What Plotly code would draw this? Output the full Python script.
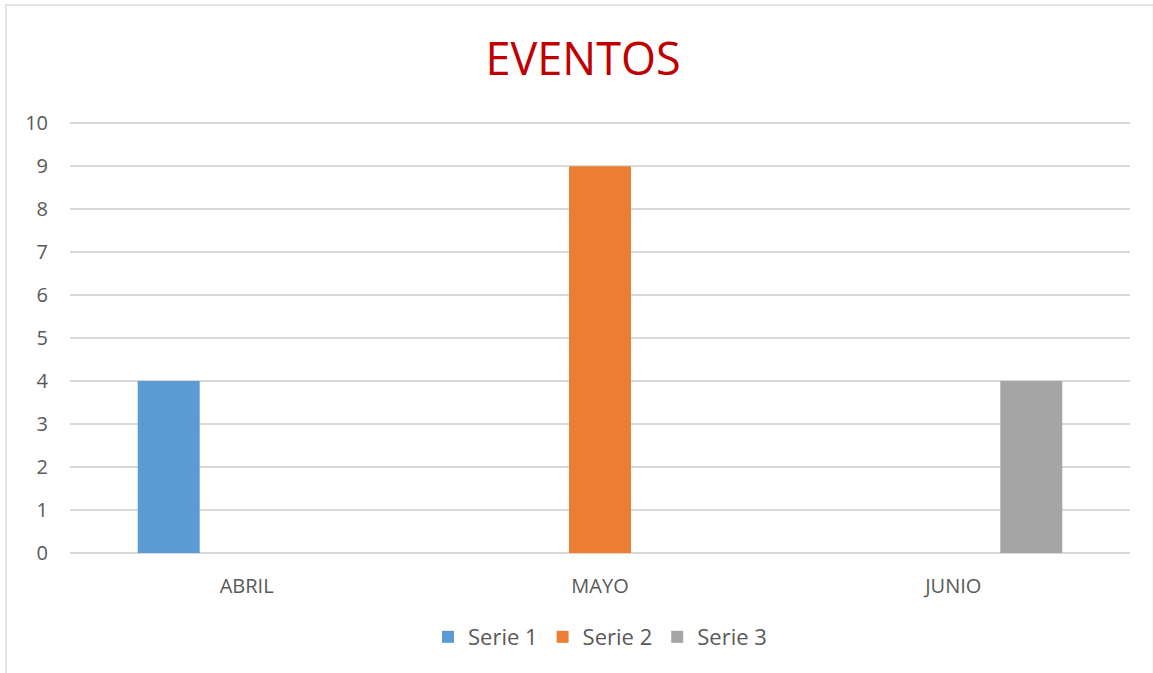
import plotly.graph_objects as go

categories = ["ABRIL", "MAYO", "JUNIO"]
serie1 = [4, 0, 0]
serie2 = [0, 9, 0]
serie3 = [0, 0, 4]
series_names = ["Serie 1", "Serie 2", "Serie 3"]
colors = ["#5B9BD5", "#ED7D31", "#A5A5A5"]

W, H = 1153, 673
L, R, T, B = 70, 23, 121, 120
pw, ph = W - L - R, H - T - B

fig = go.Figure()
for name, vals, c in zip(series_names, [serie1, serie2, serie3], colors):
    fig.add_trace(go.Bar(x=categories, y=vals, name=name, marker_color=c, marker_line_width=0))

def px_to_paper_x(p):
    return (p - L) / pw

def px_to_paper_y(p):
    return (H - B - p) / ph

fig.add_shape(type="rect", xref="paper", yref="paper",
              x0=px_to_paper_x(6), x1=px_to_paper_x(1153.5),
              y0=px_to_paper_y(676), y1=px_to_paper_y(5),
              line=dict(color="#D9D9D9", width=1.5), fillcolor="rgba(0,0,0,0)", layer="below")

fig.update_layout(
    width=W, height=H,
    margin=dict(l=L, r=R, t=T, b=B),
    paper_bgcolor="white", plot_bgcolor="white",
    barmode="group", bargap=0.338, bargroupgap=0.205,
    title=dict(text="EVENTOS", x=583 / W, xanchor="center", y=1 - 59 / H, yanchor="middle",
               font=dict(family="Open Sans", size=45, color="#C00000")),
    font=dict(family="Open Sans", color="#595959"),
    legend=dict(orientation="h", x=0.5, xanchor="center", y=px_to_paper_y(637), yanchor="middle",
                font=dict(size=22, color="#595959"), traceorder="normal", itemwidth=30),
    showlegend=True,
)
fig.update_yaxes(range=[0, 10.05], dtick=1, tick0=0, showgrid=True, gridcolor="#D9D9D9", gridwidth=1.5,
                 zeroline=True, zerolinecolor="#D9D9D9", zerolinewidth=1.5,
                 tickfont=dict(size=20, color="#595959"), ticks="", ticklen=0, ticklabelstandoff=21,
                 showline=False)
fig.update_xaxes(showgrid=False, showline=False, tickfont=dict(size=20, color="#595959"),
                 ticks="", ticklabelstandoff=19)

fig.write_html("out.html", config={"displayModeBar": False},
               post_script="document.body.style.margin='0px';")
